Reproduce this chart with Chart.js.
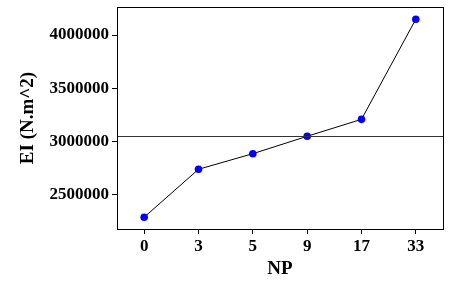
<!DOCTYPE html>
<html>
<head>
<meta charset="utf-8">
<script src="https://cdn.jsdelivr.net/npm/chart.js@4/dist/chart.umd.min.js"></script>
<style>
html,body{margin:0;padding:0;background:#fff;}
#wrap{width:457px;height:283px;}
</style>
</head>
<body>
<div id="wrap"><canvas id="c" width="457" height="283"></canvas></div>
<script>
const categories = ['0', '3', '5', '9', '17', '33'];
const eiValues = [2283000, 2735000, 2882000, 3046000, 3206000, 4150000];
const yTicks = [2500000, 3000000, 3500000, 4000000];
const referenceValue = 3050000;
const yMin = 2172000;
const yMax = 4265000;

const frameAndRef = {
  id: 'frameAndRef',
  afterDatasetsDraw(chart) {
    const {ctx, chartArea: a, scales: {y}} = chart;
    ctx.save();
    const ry = Math.round(y.getPixelForValue(referenceValue)) + 0.5;
    ctx.strokeStyle = '#333333';
    ctx.lineWidth = 1;
    ctx.beginPath();
    ctx.moveTo(a.left, ry);
    ctx.lineTo(a.right, ry);
    ctx.stroke();
    ctx.strokeStyle = '#000';
    ctx.strokeRect(Math.round(a.left) + 0.5, Math.round(a.top) + 0.5, Math.round(a.right - a.left), Math.round(a.bottom - a.top));
    ctx.restore();
  }
};

const tickFont = {family: 'Liberation Serif', size: 17, weight: 'bold'};
const titleFont = {family: 'Liberation Serif', size: 19, weight: 'bold'};

new Chart(document.getElementById('c'), {
  type: 'line',
  data: {
    labels: categories,
    datasets: [{
      data: eiValues,
      borderColor: '#000',
      borderWidth: 1,
      pointBackgroundColor: '#0000FF',
      pointBorderColor: '#0000FF',
      pointRadius: 3.8,
      pointBorderWidth: 0,
      tension: 0
    }]
  },
  options: {
    responsive: false,
    animation: false,
    layout: {padding: {top: 7, right: 14, left: 0, bottom: 0}},
    plugins: {legend: {display: false}, tooltip: {enabled: false}},
    scales: {
      x: {
        offset: true,
        grid: {display: true, drawOnChartArea: false, drawTicks: true, tickLength: 5, color: '#000', offset: false},
        border: {display: false},
        ticks: {color: '#000', font: tickFont, padding: 2, maxRotation: 0},
        title: {display: true, text: 'NP', color: '#000', font: titleFont, padding: {top: 0, bottom: 3}},
        afterFit: s => { s.height = 54; s.paddingLeft = 0; s.paddingRight = 0; }
      },
      y: {
        min: yMin,
        max: yMax,
        afterBuildTicks: s => { s.ticks = yTicks.map(v => ({value: v})); },
        grid: {display: true, drawOnChartArea: false, drawTicks: true, tickLength: 5, color: '#000'},
        border: {display: false},
        ticks: {color: '#000', font: tickFont, padding: 3, callback: v => String(v)},
        title: {display: true, text: 'EI (N.m^2)', color: '#000', font: titleFont, padding: {top: 17, bottom: 0}},
        afterFit: s => { s.width = 117; s.paddingTop = 0; s.paddingBottom = 0; }
      }
    }
  },
  plugins: [frameAndRef]
});
</script>
</body>
</html>
